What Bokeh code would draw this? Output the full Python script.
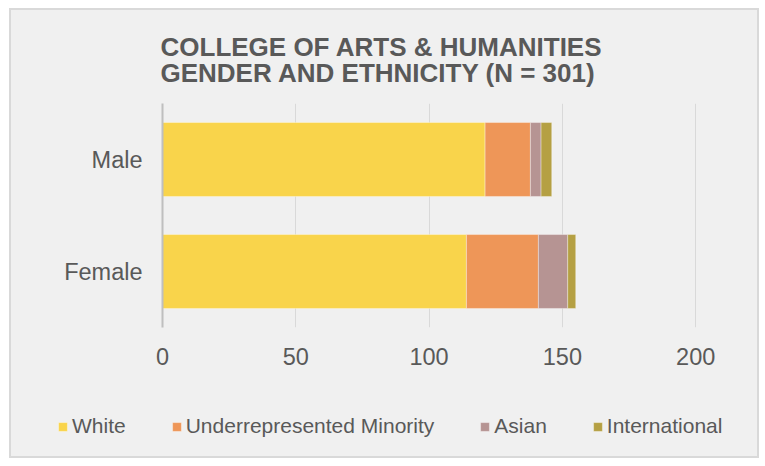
from bokeh.plotting import figure
from bokeh.layouts import column
from bokeh.models import FactorRange, Range1d, Legend, LegendItem, Title, FixedTicker
from bokeh.embed import file_html
from bokeh.resources import INLINE

# ---- data ----
genders = ["Female", "Male"]          # bottom to top
series = ["White", "Underrepresented Minority", "Asian", "International"]
white = [114, 121]
urm = [27, 17]
asian = [11, 4]
international = [3, 4]
x_ticks = [0, 50, 100, 150, 200]
title_text = "COLLEGE OF ARTS & HUMANITIES\nGENDER AND ETHNICITY (N = 301)"

colors = ["#F9D44B", "#EE9658", "#B69493", "#B5A043"]
TXT = "#595959"
BG = "#f0f0f0"
FONT = "Liberation Sans"

data = dict(gender=genders, White=white, **{"Underrepresented Minority": urm},
            Asian=asian, International=international)

p = figure(width=746, height=380, output_backend="svg", toolbar_location=None,
           y_range=FactorRange(factors=genders, range_padding=0),
           x_range=Range1d(0, 200.3),
           background_fill_color=BG, border_fill_color=BG,
           min_border_left=151, min_border_right=61, min_border_top=93,
           min_border_bottom=63, outline_line_color=None)
p.frame_align = False

renderers = p.hbar_stack(series, y="gender", height=0.66, color=colors,
                         line_color="white", line_alpha=0.35, line_width=1,
                         source=data)

p.title = Title(text=title_text, align="left", offset=-2, text_font=FONT,
                text_font_size="26px", text_font_style="bold", text_color=TXT,
                text_line_height=0.85, standoff=27, vertical_align="top")

# axes
p.xaxis.ticker = FixedTicker(ticks=x_ticks)
p.xaxis.axis_line_color = None
p.xaxis.major_tick_line_color = None
p.xaxis.minor_tick_line_color = None
p.xaxis.major_label_text_font = FONT
p.xaxis.major_label_text_font_size = "23.5px"
p.xaxis.major_label_text_color = TXT
p.xaxis.major_label_standoff = 14

p.yaxis.axis_line_color = "#bfbfbf"
p.yaxis.axis_line_width = 2
p.yaxis.major_tick_line_color = None
p.yaxis.minor_tick_line_color = None
p.yaxis.major_label_text_font = FONT
p.yaxis.major_label_text_font_size = "23.5px"
p.yaxis.major_label_text_color = TXT
p.yaxis.major_label_standoff = 14

p.xgrid.grid_line_color = "#d9d9d9"
p.xgrid.grid_line_width = 1
p.ygrid.grid_line_color = None

# legend strip (same series, drawn off-range so only the legend shows)
lg = figure(width=746, height=66, output_backend="svg", toolbar_location=None,
            y_range=FactorRange(factors=genders), x_range=Range1d(-1000, -999),
            background_fill_color=BG, border_fill_color=BG,
            min_border=0, outline_line_color=None)
lg.frame_align = False
lg.axis.visible = False
lg.grid.visible = False
lg_renderers = lg.hbar_stack(series, y="gender", height=0.66, color=colors,
                             line_color="white", line_alpha=0.35, line_width=1,
                             source=data)

legend = Legend(items=[LegendItem(label=s, renderers=[r]) for s, r in zip(series, lg_renderers)],
                orientation="horizontal", location=(46, 18),
                background_fill_alpha=0, border_line_color=None,
                glyph_width=11, glyph_height=11, label_standoff=4, spacing=45,
                padding=0, margin=0,
                label_text_font=FONT, label_text_font_size="21px",
                label_text_color=TXT, label_height=22)
lg.add_layout(legend, "center")

layout = column(p, lg, spacing=0,
                styles={"border": "2px solid #d9d9d9", "margin": "8px 0 0 9px",
                        "background-color": BG})

open("out.html", "w").write(file_html(layout, INLINE))
